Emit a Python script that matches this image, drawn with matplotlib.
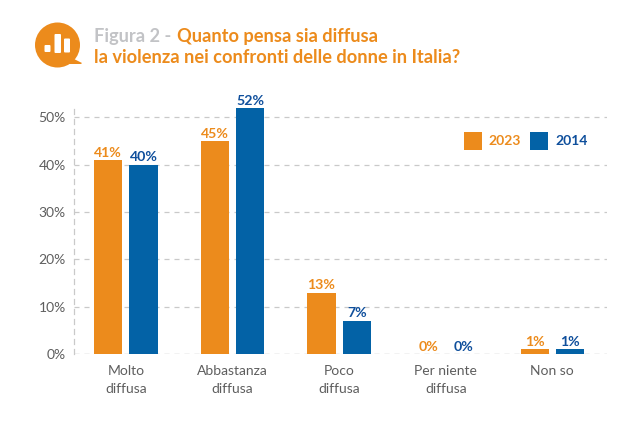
import matplotlib
matplotlib.use("Agg")
import matplotlib.pyplot as plt
import numpy as np
from matplotlib.patches import Circle, FancyBboxPatch, Polygon

plt.rcParams['font.family'] = ['Lato', 'DejaVu Sans']

# Data
categories = ["Molto\ndiffusa", "Abbastanza\ndiffusa", "Poco\ndiffusa", "Per niente\ndiffusa", "Non so"]
values_2023 = [41, 45, 13, 0, 1]
values_2014 = [40, 52, 7, 0, 1]
y_ticks = [0, 10, 20, 30, 40, 50]

orange = "#EC8B1C"
blue = "#0362A6"
blue_text = "#0F4F9C"
gray = "#C2C3C6"
grid_color = "#C9C9C9"
tick_color = "#5E5E5E"

W, H = 640, 424
fig = plt.figure(figsize=(W / 100, H / 100), dpi=100)
ax = fig.add_axes([74 / W, 1 - 354 / H, 533 / W, 246 / H])

x = np.arange(len(categories))
bar_width = 0.265
offset = 0.165
bars_a = ax.bar(x - offset, values_2023, width=bar_width, color=orange, zorder=3)
bars_b = ax.bar(x + offset, values_2014, width=bar_width, color=blue, zorder=3)

# Values over the bars
for xi, v in zip(x - offset, values_2023):
    ax.annotate(f"{v}%", (xi, v), xytext=(0, 1), textcoords="offset points", ha='center', va='bottom',
                color=orange, fontsize=10.2, fontweight='bold', zorder=4)
for xi, v in zip(x + offset, values_2014):
    ax.annotate(f"{v}%", (xi, v), xytext=(0, 1), textcoords="offset points", ha='center', va='bottom',
                color=blue_text, fontsize=10.2, fontweight='bold', zorder=4)

ax.set_xlim(-0.487, 4.513)
ax.set_ylim(0, 52)
ax.set_xticks(x)
ax.set_xticklabels(categories, fontsize=10, color=tick_color, linespacing=1.55)
ax.set_yticks(y_ticks)
ax.set_yticklabels([f"{t}%" for t in y_ticks], fontsize=10, color=tick_color)
ax.tick_params(axis='x', length=0, pad=8)
ax.tick_params(axis='y', length=0, pad=6)
ax.grid(True, axis='y', linestyle=(0, (4, 4)), color=grid_color, linewidth=0.9, zorder=0)
ax.set_axisbelow(True)
for name in ['top', 'right', 'bottom']:
    ax.spines[name].set_visible(False)
ax.spines['left'].set_color(grid_color)
ax.spines['left'].set_linestyle((0, (4, 4)))
ax.spines['left'].set_linewidth(0.9)
ax.axhline(0, color=grid_color, linestyle=(0, (4, 4)), linewidth=0.9, zorder=1)

# Overlay in pixel coordinates for header and legend
ov = fig.add_axes([0, 0, 1, 1])
ov.set_xlim(0, W)
ov.set_ylim(H, 0)
ov.axis('off')
ov.patch.set_alpha(0)

# Icon
ov.add_patch(Circle((57.5, 45), 22.5, color=orange, lw=0))
ov.add_patch(Polygon([[72, 58], [82, 63], [81, 64], [68, 64]], color=orange, lw=0))
for bx, by, bh in [(44.5, 44, 8), (54.5, 33, 20), (64, 37.5, 15)]:
    bw = 6 if bx != 54.5 else 6.5
    ov.add_patch(FancyBboxPatch((bx, by + 1), bw, bh - 1, boxstyle="round,pad=0,rounding_size=1",
                                color="white", lw=0))

# Title
ov.text(94, 42, "Figura 2 -", color=gray, fontsize=13.15, fontweight='bold', va='baseline')
ov.text(177, 42, "Quanto pensa sia diffusa", color=orange, fontsize=13.15, fontweight='bold', va='baseline')
ov.text(94, 63, "la violenza nei confronti delle donne in Italia?", color=orange, fontsize=13.15,
        fontweight='bold', va='baseline')

# Legend
ov.add_patch(plt.Rectangle((464, 132), 18, 18, color=orange, lw=0))
ov.text(488, 141, "2023", color=orange, fontsize=10, fontweight='bold', va='center')
ov.add_patch(plt.Rectangle((530, 132), 18, 18, color=blue, lw=0))
ov.text(555, 141, "2014", color=blue_text, fontsize=10, fontweight='bold', va='center')

fig.savefig("out.png", dpi=100, facecolor="white")
